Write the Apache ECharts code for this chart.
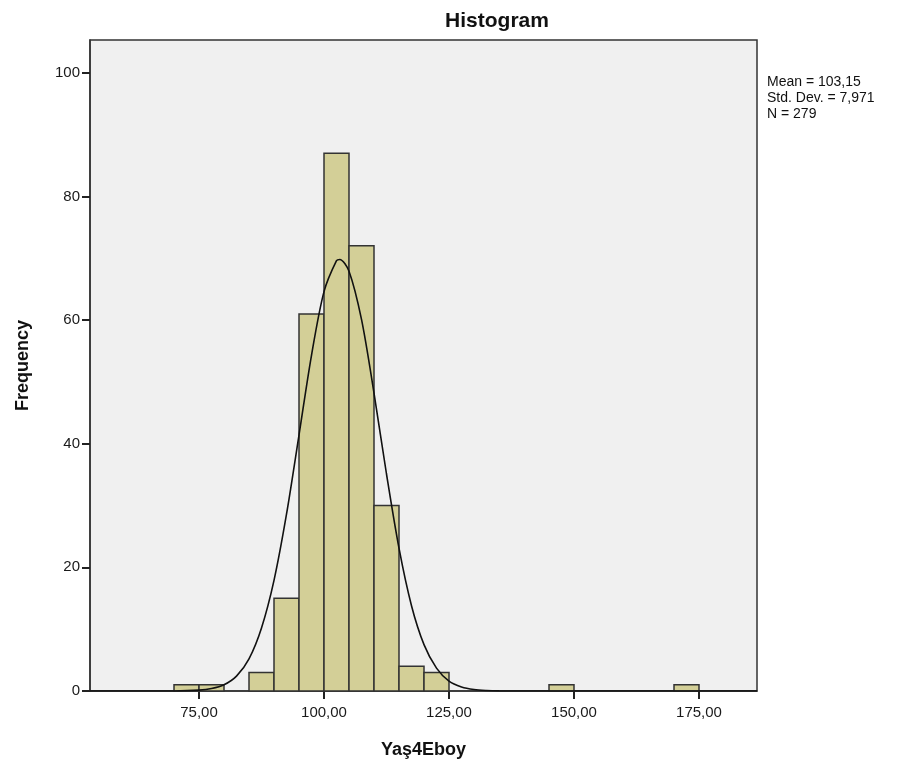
<!DOCTYPE html>
<html>
<head>
<meta charset="utf-8">
<script src="https://cdn.jsdelivr.net/npm/echarts@6/dist/echarts.min.js"></script>
<style>
  html, body { margin: 0; padding: 0; background: #fff; }
  #chart { width: 904px; height: 771px; }
</style>
</head>
<body>
<div id="chart"></div>
<script>
// bins of width 5
const binStart = [70, 75, 85, 90, 95, 100, 105, 110, 115, 120, 145, 170]
const binCounts = [1, 1, 3, 15, 61, 87, 72, 30, 4, 3, 1, 1]
const binWidth = 5

// normal curve
const curveX = [53.2, 65, 70, 75, 77.5, 80, 82.5, 85, 87.5, 90, 92.5, 95, 97.5, 100, 102.5, 103.15, 105, 107.5, 110, 112.5, 115, 117.5, 120, 122.5, 125, 127.5, 130, 132.5, 135, 140, 186.6]
const curveY = [0, 0, 0.01, 0.14, 0.39, 1.0, 2.4, 5.2, 10.2, 17.9, 28.6, 41.4, 54.3, 64.6, 69.6, 69.8, 67.9, 60.1, 48.2, 35.1, 23.1, 13.8, 7.5, 3.7, 1.6, 0.66, 0.24, 0.08, 0.02, 0, 0]

const xTicks = [75, 100, 125, 150, 175]
const yTicks = [0, 20, 40, 60, 80, 100]

const statsText = 'Mean = 103,15\nStd. Dev. = 7,971\nN = 279'

let barData = binStart.map((s, i) => [s, s + binWidth, binCounts[i]])
let curveData = curveX.map((x, i) => [x, curveY[i]])

let myChart = echarts.init(document.getElementById('chart'))
let font = 'Arial, "Liberation Sans", sans-serif'

let option = {
    backgroundColor: '#fff',
    animation: false,
    textStyle: { fontFamily: font },
    title: {
        text: 'Histogram',
        left: 492,
        top: 6,
        textAlign: 'center',
        textStyle: { fontSize: 21, fontWeight: 'bold', color: '#111', fontFamily: font }
    },
    graphic: [{
        type: 'text',
        left: 767,
        top: 74,
        style: { text: statsText, font: '14px ' + font, fill: '#111', lineHeight: 16 }
    }],
    grid: {
        left: 90, right: 147, top: 40, bottom: 80,
        show: true,
        backgroundColor: '#f0f0f0',
        borderColor: '#333',
        borderWidth: 1.5
    },
    xAxis: {
        type: 'value',
        min: 53.2,
        max: 186.6,
        name: 'Yaş4Eboy',
        nameLocation: 'middle',
        nameGap: 50,
        nameTextStyle: { fontSize: 18, fontWeight: 'bold', color: '#111' },
        splitLine: { show: false },
        axisLine: { lineStyle: { color: '#333', width: 1.5 } },
        axisTick: { show: true, length: 8, lineStyle: { color: '#222', width: 2 }, customValues: xTicks },
        axisLabel: {
            customValues: xTicks,
            color: '#1a1a1a', fontSize: 15, margin: 14,
            formatter: v => v.toFixed(2).replace('.', ',')
        }
    },
    yAxis: {
        type: 'value',
        min: 0,
        max: 105.3,
        name: 'Frequency',
        nameLocation: 'middle',
        nameGap: 58,
        nameTextStyle: { fontSize: 18, fontWeight: 'bold', color: '#111' },
        splitLine: { show: false },
        axisLine: { show: true, lineStyle: { color: '#333', width: 1.5 } },
        axisTick: { show: true, length: 8, lineStyle: { color: '#222', width: 2 }, customValues: yTicks },
        axisLabel: { customValues: yTicks, color: '#1a1a1a', fontSize: 15, margin: 10 }
    },
    series: [{
        type: 'custom',
        data: barData,
        encode: { x: [0, 1], y: 2 },
        renderItem: function (params, api) {
            let p0 = api.coord([api.value(0), api.value(2)])
            let p1 = api.coord([api.value(1), 0])
            return {
                type: 'rect',
                shape: { x: p0[0], y: p0[1], width: p1[0] - p0[0], height: p1[1] - p0[1] },
                style: { fill: '#d3cf97', stroke: '#333', lineWidth: 1.5 }
            }
        },
        z: 2
    }, {
        type: 'line',
        data: curveData,
        smooth: 0.3,
        symbol: 'none',
        lineStyle: { color: '#111', width: 1.6 },
        z: 3
    }]
}
myChart.setOption(option)
</script>
</body>
</html>
